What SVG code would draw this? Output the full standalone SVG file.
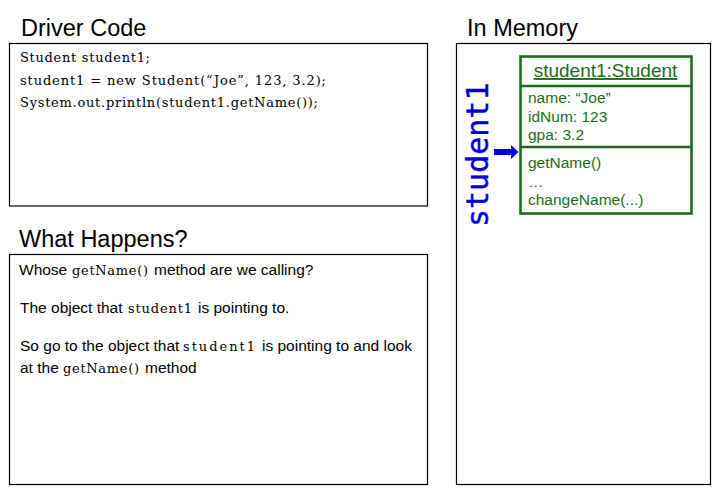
<svg xmlns="http://www.w3.org/2000/svg" width="720" height="494" viewBox="0 0 720 494">
  <defs>
    <style>
      .panel { fill: #ffffff; stroke: #000000; stroke-width: 1.2; }
      .title { font-family: "Liberation Sans", Arial, sans-serif; font-size: 23.5px; fill: #000000; }
      .code { font-family: "DejaVu Serif", "Liberation Serif", serif; font-size: 13px; fill: #000000; }
      .prose { font-family: "Liberation Sans", Arial, sans-serif; font-size: 15.5px; fill: #000000; }
      .mono { font-family: "DejaVu Serif", "Liberation Serif", serif; font-size: 13px; fill: #000000; }
      .obj { fill: #ffffff; stroke: #1a6e1a; stroke-width: 2.6; }
      .objtxt { font-family: "Liberation Sans", Arial, sans-serif; font-size: 15.5px; fill: #1a6e1a; }
      .objhead { font-family: "Liberation Sans", Arial, sans-serif; font-size: 19px; fill: #1a6e1a; }
      .ref { font-family: "DejaVu Sans Mono", monospace; font-size: 30px; fill: #0000dd; stroke: #0000dd; stroke-width: 0.4; }
    </style>
  </defs>
  <rect width="720" height="494" fill="#ffffff"/>

  <!-- Driver Code panel -->
  <g id="driver-code">
    <text class="title" x="21" y="36">Driver Code</text>
    <rect class="panel" x="9.5" y="43.5" width="418" height="162.5"/>
    <text class="code" x="20" y="62" textLength="130" lengthAdjust="spacing">Student student1;</text>
    <text class="code" x="20" y="85" textLength="306" lengthAdjust="spacing">student1 = new Student(“Joe”, 123, 3.2);</text>
    <text class="code" x="20" y="107" textLength="298" lengthAdjust="spacing">System.out.println(student1.getName());</text>
  </g>

  <!-- What Happens panel: prose with inline code words -->
  <g id="what-happens">
    <text class="title" x="19" y="247">What Happens?</text>
    <rect class="panel" x="9.5" y="254.5" width="418" height="230"/>
    <text class="prose" x="19" y="275">Whose</text>
    <text class="mono" x="72" y="275" textLength="76" lengthAdjust="spacing">getName()</text>
    <text class="prose" x="154" y="275">method are we calling?</text>

    <text class="prose" x="20" y="313">The object that</text>
    <text class="mono" x="128" y="313" textLength="64" lengthAdjust="spacing">student1</text>
    <text class="prose" x="198" y="313">is pointing to.</text>

    <text class="prose" x="20" y="351">So go to the object that</text>
    <text class="mono" x="183" y="351" textLength="72" lengthAdjust="spacing">student1</text>
    <text class="prose" x="262" y="351">is pointing to and look</text>

    <text class="prose" x="20" y="373">at the</text>
    <text class="mono" x="63" y="373" textLength="76" lengthAdjust="spacing">getName()</text>
    <text class="prose" x="145" y="373">method</text>
  </g>

  <!-- In Memory panel -->
  <g id="in-memory">
    <text class="title" x="467" y="36">In Memory</text>
    <rect class="panel" x="456.5" y="43.5" width="254" height="441"/>
  </g>

  <!-- Reference variable -->
  <g id="student1-ref">
    <text class="ref" transform="translate(488 227) rotate(-90)">student1</text>
  </g>

  <!-- Student object -->
  <g id="student-object">
    <rect class="obj" x="520.5" y="56.5" width="171" height="157"/>
    <line class="obj" x1="520.5" y1="86" x2="691.5" y2="86"/>
    <line class="obj" x1="520.5" y1="147" x2="691.5" y2="147"/>
    <text class="objhead" x="605.5" y="77" text-anchor="middle" text-decoration="underline">student1:Student</text>
    <text class="objtxt" x="528" y="103">name: “Joe”</text>
    <text class="objtxt" x="528" y="121.5">idNum: 123</text>
    <text class="objtxt" x="528" y="140">gpa: 3.2</text>
    <text class="objtxt" x="528" y="168">getName()</text>
    <text class="objtxt" x="528" y="187">…</text>
    <text class="objtxt" x="528" y="205">changeName(...)</text>
  </g>

  <!-- Connector -->
  <g id="connectors">
    <path d="M494 149 H511 V145 L518.5 152 L511 159 V155 H494 Z" fill="#0000dd"/>
  </g>
</svg>
